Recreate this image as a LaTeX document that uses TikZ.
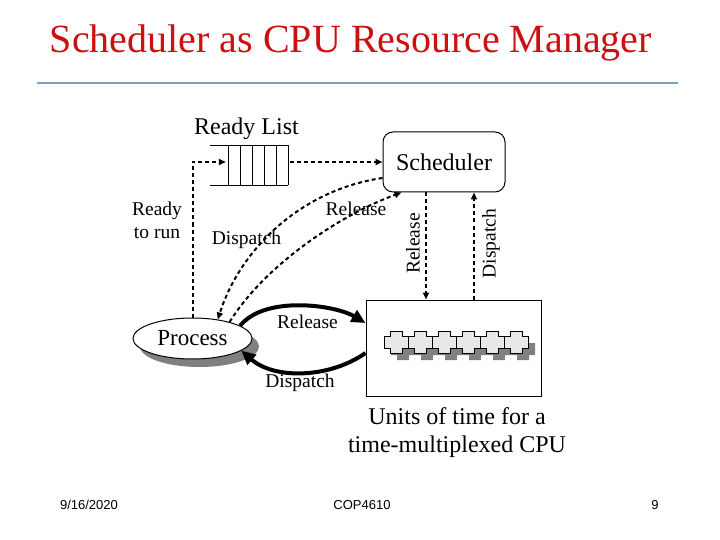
\documentclass[tikz,border=0pt]{standalone}
\usepackage{fontspec}
\setmainfont{Liberation Serif}
\newfontfamily\footfont{Liberation Sans}
\usetikzlibrary{arrows.meta,shapes.geometric}
\definecolor{titlered}{RGB}{204,16,16}
\definecolor{rulecol}{RGB}{127,159,191}
\definecolor{crossfill}{RGB}{232,232,232}
\definecolor{shadowgray}{RGB}{128,128,128}
\begin{document}
\begin{tikzpicture}[x=1pt,y=-1pt,
  dashedarrow/.style={line width=2pt, dash pattern=on 4pt off 3pt, -{Triangle[length=7pt,width=6pt]}},
  thickarrow/.style={line width=4pt, -{Triangle[length=14pt,width=13pt]}},
  lbl/.style={font=\fontsize{19.5}{22}\selectfont, inner sep=0pt, anchor=base},
  rlbl/.style={font=\fontsize{19.5}{22}\selectfont, inner sep=0pt, rotate=90},
  big/.style={font=\fontsize{24}{28}\selectfont, inner sep=0pt, anchor=base},
  foot/.style={font=\footfont\fontsize{13}{15}\selectfont, inner sep=0pt, anchor=base},
  crossshape/.style={line width=1pt}
]
\useasboundingbox (0,0) rectangle (720,540);
\fill[white] (0,0) rectangle (720,540);

% title and rule
\node[font=\fontsize{40}{48}\selectfont, text=titlered, anchor=base, inner sep=0pt] (title) at (351,53) {Scheduler as CPU Resource Manager};
\draw[rulecol, line width=2pt] (37,83) -- (678,83);

% ready list queue
\node[minimum width=60pt, minimum height=40pt, inner sep=0pt] (queue) at (258,165.5) {};
\draw[line width=1pt] (210,145.5) -- (288,145.5);
\draw[line width=1pt] (210,185.5) -- (288,185.5);
\foreach \x in {228,240,252,264,276,288} \draw[line width=1pt] (\x,145.5) -- (\x,185.5);
\node[big] (rl) at (246.5,135) {Ready List};

% scheduler
\node[draw, line width=1pt, rounded corners=10pt, minimum width=122pt, minimum height=60pt, font=\fontsize{24}{28}\selectfont] (sched) at (444,162) {Scheduler};

% CPU box
\node[draw, line width=1pt, minimum width=175pt, minimum height=96pt] (cpu) at (453.5,348) {};
\foreach \i in {0,...,5} \fill[shadowgray, shift={(24*\i+7,7)}] (390,331) -- (402,331) -- (402,336) -- (408,336) -- (408,348) -- (402,348) -- (402,353) -- (390,353) -- (390,348) -- (384,348) -- (384,336) -- (390,336) -- cycle;
\foreach \i in {0,...,5} \filldraw[fill=crossfill, draw=black, crossshape, shift={(24*\i,0)}] (390,331) -- (402,331) -- (402,336) -- (408,336) -- (408,348) -- (402,348) -- (402,353) -- (390,353) -- (390,348) -- (384,348) -- (384,336) -- (390,336) -- cycle;

% process
\node[ellipse, fill=shadowgray, minimum width=119pt, minimum height=41pt, inner sep=0pt] (procsh) at (199.5,346.5) {};
\node[ellipse, draw, fill=white, line width=1pt, minimum width=119pt, minimum height=41pt, inner sep=0pt, font=\fontsize{23}{27}\selectfont] (proc) at (192.5,338.5) {Process};

% dashed connectors
\draw[dashedarrow] (proc.north) |- ([yshift=3.5pt, xshift=-2pt]queue.west);
\draw[dashedarrow] ([yshift=3.5pt, xshift=2pt]queue.east) -- (sched.west);
\draw[dashedarrow] ([yshift=-16pt]sched.west) .. controls (300,190) and (240,250) .. (proc.37);
\draw[dashedarrow] (proc.24) .. controls (265,265) and (340,215) .. ([xshift=19pt]sched.south west);
\draw[dashedarrow] ([xshift=-18pt]sched.south) -- ([xshift=-27.5pt]cpu.north);
\draw[dashedarrow] ([xshift=20.5pt]cpu.north) -- ([xshift=30pt]sched.south);

% thick connectors
\draw[thickarrow] (proc.15) .. controls (265,295) and (335,305) .. ([yshift=25pt]cpu.west);
\draw[thickarrow] ([yshift=-5pt]cpu.west) .. controls (330,378) and (275,380) .. (proc.-14);

% labels
\node[lbl] (rdy1) at (157,215) {Ready};
\node[lbl] (rdy2) at (157,238) {to run};
\node[lbl] (disp1) at (246.5,244) {Dispatch};
\node[lbl] (rel1) at (356,215) {Release};
\node[rlbl] (rel2) at (413,243.5) {Release};
\node[rlbl] (disp2) at (491,243.5) {Dispatch};
\node[lbl] (rel3) at (307.5,328) {Release};
\node[lbl] (disp3) at (300,387) {Dispatch};
\node[big] (u1) at (457,424) {Units of time for a};
\node[big] (u2) at (457,452) {time-multiplexed CPU};

% footer
\node[foot] (date) at (89,509) {9/16/2020};
\node[foot] (course) at (362,509) {COP4610};
\node[foot] (page) at (655,509) {9};
\end{tikzpicture}
\end{document}
